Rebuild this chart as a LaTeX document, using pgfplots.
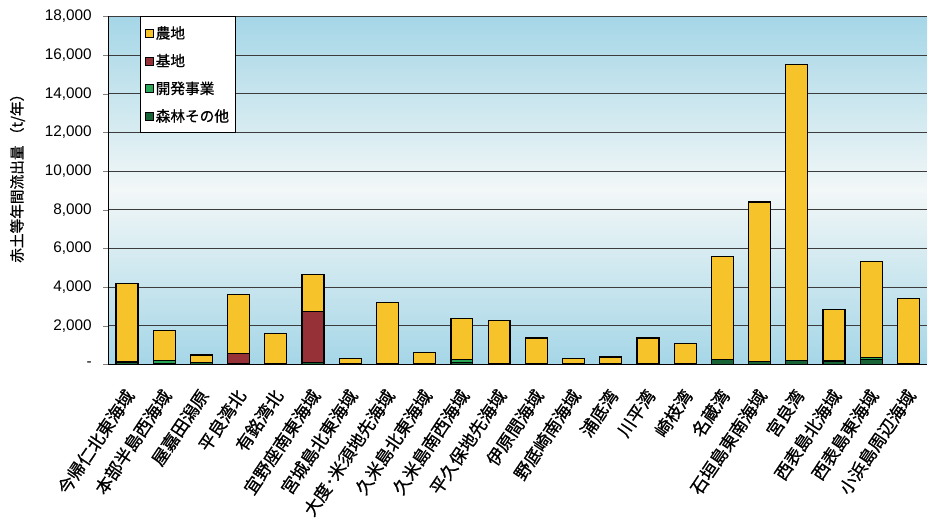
\documentclass[border=0pt]{standalone}
\usepackage{fontspec}
\usepackage{pgfplots}
\pgfplotsset{compat=1.18}
\setmainfont{Liberation Sans}
\newfontfamily\jp[FakeBold=0.8,AutoFakeBold=0.8]{Noto Sans CJK JP}

\definecolor{nouchi}{RGB}{246,196,42}
\definecolor{kichi}{RGB}{150,50,55}
\definecolor{kaihatsu}{RGB}{40,165,85}
\definecolor{shinrin}{RGB}{25,100,55}
\definecolor{bgblue}{RGB}{165,214,231}
\definecolor{bgwhite}{RGB}{242,247,247}
\definecolor{gridc}{RGB}{60,60,60}

% x  forest  development  base  farmland
\pgfplotstableread{
x shinrin kaihatsu kichi nouchi
0  120 0   0    4080
1  60  150 0    1540
2  100 0   0    380
3  60  0   520  3040
4  30  0   0    1570
5  80  0   2640 1920
6  20  0   0    290
7  40  0   0    3140
8  30  0   0    600
9  80  170 0    2120
10 30  0   0    2240
11 30  0   0    1330
12 20  0   0    290
13 20  0   0    360
14 40  0   0    1320
15 30  0   0    1030
16 250 0   0    5350
17 130 0   0    8270
18 200 0   0    15300
19 170 0   0    2660
20 250 100 0    4980
21 40  0   0    3350
}\data

\begin{document}
\begin{tikzpicture}
\begin{axis}[
    scale only axis,
    width=614pt, height=261pt,
    ybar stacked,
    bar width=0.59,
    xmin=-0.5, xmax=21.5,
    ymin=0, ymax=18000,
    axis lines*=left,
    axis line style={black, line width=0.9pt},
    axis background/.style={shade, top color=bgblue, bottom color=bgblue, middle color=bgwhite},
    ymajorgrids,
    grid style={gridc, line width=0.8pt},
    scaled y ticks=false,
    ytick={0,2000,...,18000},
    yticklabels={-, {2,000}, {4,000}, {6,000}, {8,000}, {10,000}, {12,000}, {14,000}, {16,000}, {18,000}},
    yticklabel style={font=\fontsize{11.5}{13}\selectfont, xshift=-5pt},
    tick align=outside,
    major tick length=4pt,
    xtick={0,...,21},
    xtick style={draw=none},
    xticklabels={今帰仁北東海域, 本部半島西海域, 屋嘉田潟原, 平良湾北, 有銘湾北, 宜野座南東海域, 宮城島北東海域, 大度･米須地先海域, 久米島北東海域, 久米島南西海域, 平久保地先海域, 伊原間海域, 野底崎南海域, 浦底湾, 川平湾, 崎枝湾, 名蔵湾, 石垣島東南海域, 宮良湾, 西表島北海域, 西表島東海域, 小浜島周辺海域},
    xticklabel style={font=\jp\fontsize{13}{15}\selectfont, rotate=56, anchor=east, yshift=-11pt, xshift=-9pt},
    every axis y label/.style={at={(axis description cs:-0.111,0.545)}, rotate=90, anchor=center, font=\jp\fontsize{11}{12}\selectfont},
    ylabel={赤土等年間流出量 （t/年）},
    legend style={at={(0.0386,1)}, anchor=north west, draw=black, line width=0.8pt, fill=white,
        font=\jp\fontsize{11}{13}\selectfont, row sep=6pt, inner xsep=3pt, inner ysep=5pt},
    legend cell align=left,
    reverse legend,
]
\addplot[fill=shinrin, draw=black, line width=0.9pt,
    legend image code/.code={\draw[fill=shinrin, draw=black, line width=0.4pt] (0pt,-3pt) rectangle (6pt,3pt);}]
    table[x=x, y=shinrin] {\data};
\addlegendentry{森林その他}
\addplot[fill=kaihatsu, draw=black, line width=0.9pt,
    legend image code/.code={\draw[fill=kaihatsu, draw=black, line width=0.4pt] (0pt,-3pt) rectangle (6pt,3pt);}]
    table[x=x, y=kaihatsu] {\data};
\addlegendentry{開発事業}
\addplot[fill=kichi, draw=black, line width=0.9pt,
    legend image code/.code={\draw[fill=kichi, draw=black, line width=0.4pt] (0pt,-3pt) rectangle (6pt,3pt);}]
    table[x=x, y=kichi] {\data};
\addlegendentry{基地}
\addplot[fill=nouchi, draw=black, line width=0.9pt,
    legend image code/.code={\draw[fill=nouchi, draw=black, line width=0.4pt] (0pt,-3pt) rectangle (6pt,3pt);}]
    table[x=x, y=nouchi] {\data};
\addlegendentry{農地}
\end{axis}
\pgfresetboundingbox
\path[use as bounding box] ([xshift=-81.3pt,yshift=-119.6pt]current axis.south west) rectangle ([xshift=0.75pt,yshift=12.3pt]current axis.north east);
\end{tikzpicture}
\end{document}
